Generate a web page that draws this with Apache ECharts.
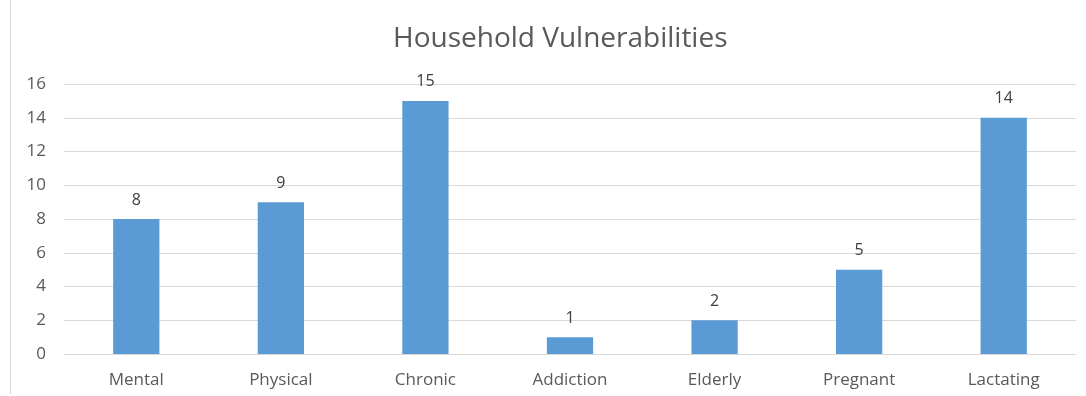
<!DOCTYPE html>
<html>
<head>
<meta charset="utf-8">
<script src="https://cdn.jsdelivr.net/npm/echarts@6/dist/echarts.min.js"></script>
<style>
  html, body { margin: 0; padding: 0; background: #fff; }
  #wrap { position: relative; width: 1086px; height: 396px; }
  #frame { position: absolute; left: 10px; top: 0; width: 1px; height: 394px; background: #d9d9d9; }
  #chart { position: absolute; left: 0; top: 0; width: 1086px; height: 396px; }
</style>
</head>
<body>
<div id="wrap">
  <div id="frame"></div>
  <div id="chart"></div>
</div>
<script>
// Household vulnerability counts per category
const categories = ['Mental', 'Physical', 'Chronic', 'Addiction', 'Elderly', 'Pregnant', 'Lactating'];
const counts = [8, 9, 15, 1, 2, 5, 14];
const titleText = 'Household Vulnerabilities';

const FONT = '"Open Sans", "Liberation Sans", sans-serif';

const chart = echarts.init(document.getElementById('chart'), null, { renderer: 'canvas' });
chart.setOption({
  animation: false,
  backgroundColor: 'transparent',
  title: {
    text: titleText,
    left: 388,
    top: 20,
    textStyle: { fontFamily: FONT, fontSize: 28, fontWeight: 'normal', color: '#595959' }
  },
  grid: { left: 64, right: 10, top: 84, bottom: 42, containLabel: false },
  xAxis: {
    type: 'category',
    data: categories,
    axisLine: { show: true, lineStyle: { color: '#d9d9d9', width: 1 } },
    axisTick: { show: false },
    axisLabel: { fontFamily: FONT, fontSize: 17, color: '#595959', margin: 18 }
  },
  yAxis: {
    type: 'value',
    min: 0,
    max: 16,
    interval: 2,
    axisLine: { show: false },
    axisTick: { show: false },
    axisLabel: { fontFamily: FONT, fontSize: 17, color: '#595959', margin: 18 },
    splitLine: { lineStyle: { color: '#d9d9d9', width: 1 } }
  },
  series: [{
    type: 'bar',
    data: counts,
    barWidth: '32%',
    itemStyle: { color: '#5b9bd5' },
    label: {
      show: true,
      position: 'top',
      distance: 11,
      fontFamily: FONT,
      fontSize: 16,
      color: '#404040'
    }
  }]
});
</script>
</body>
</html>
